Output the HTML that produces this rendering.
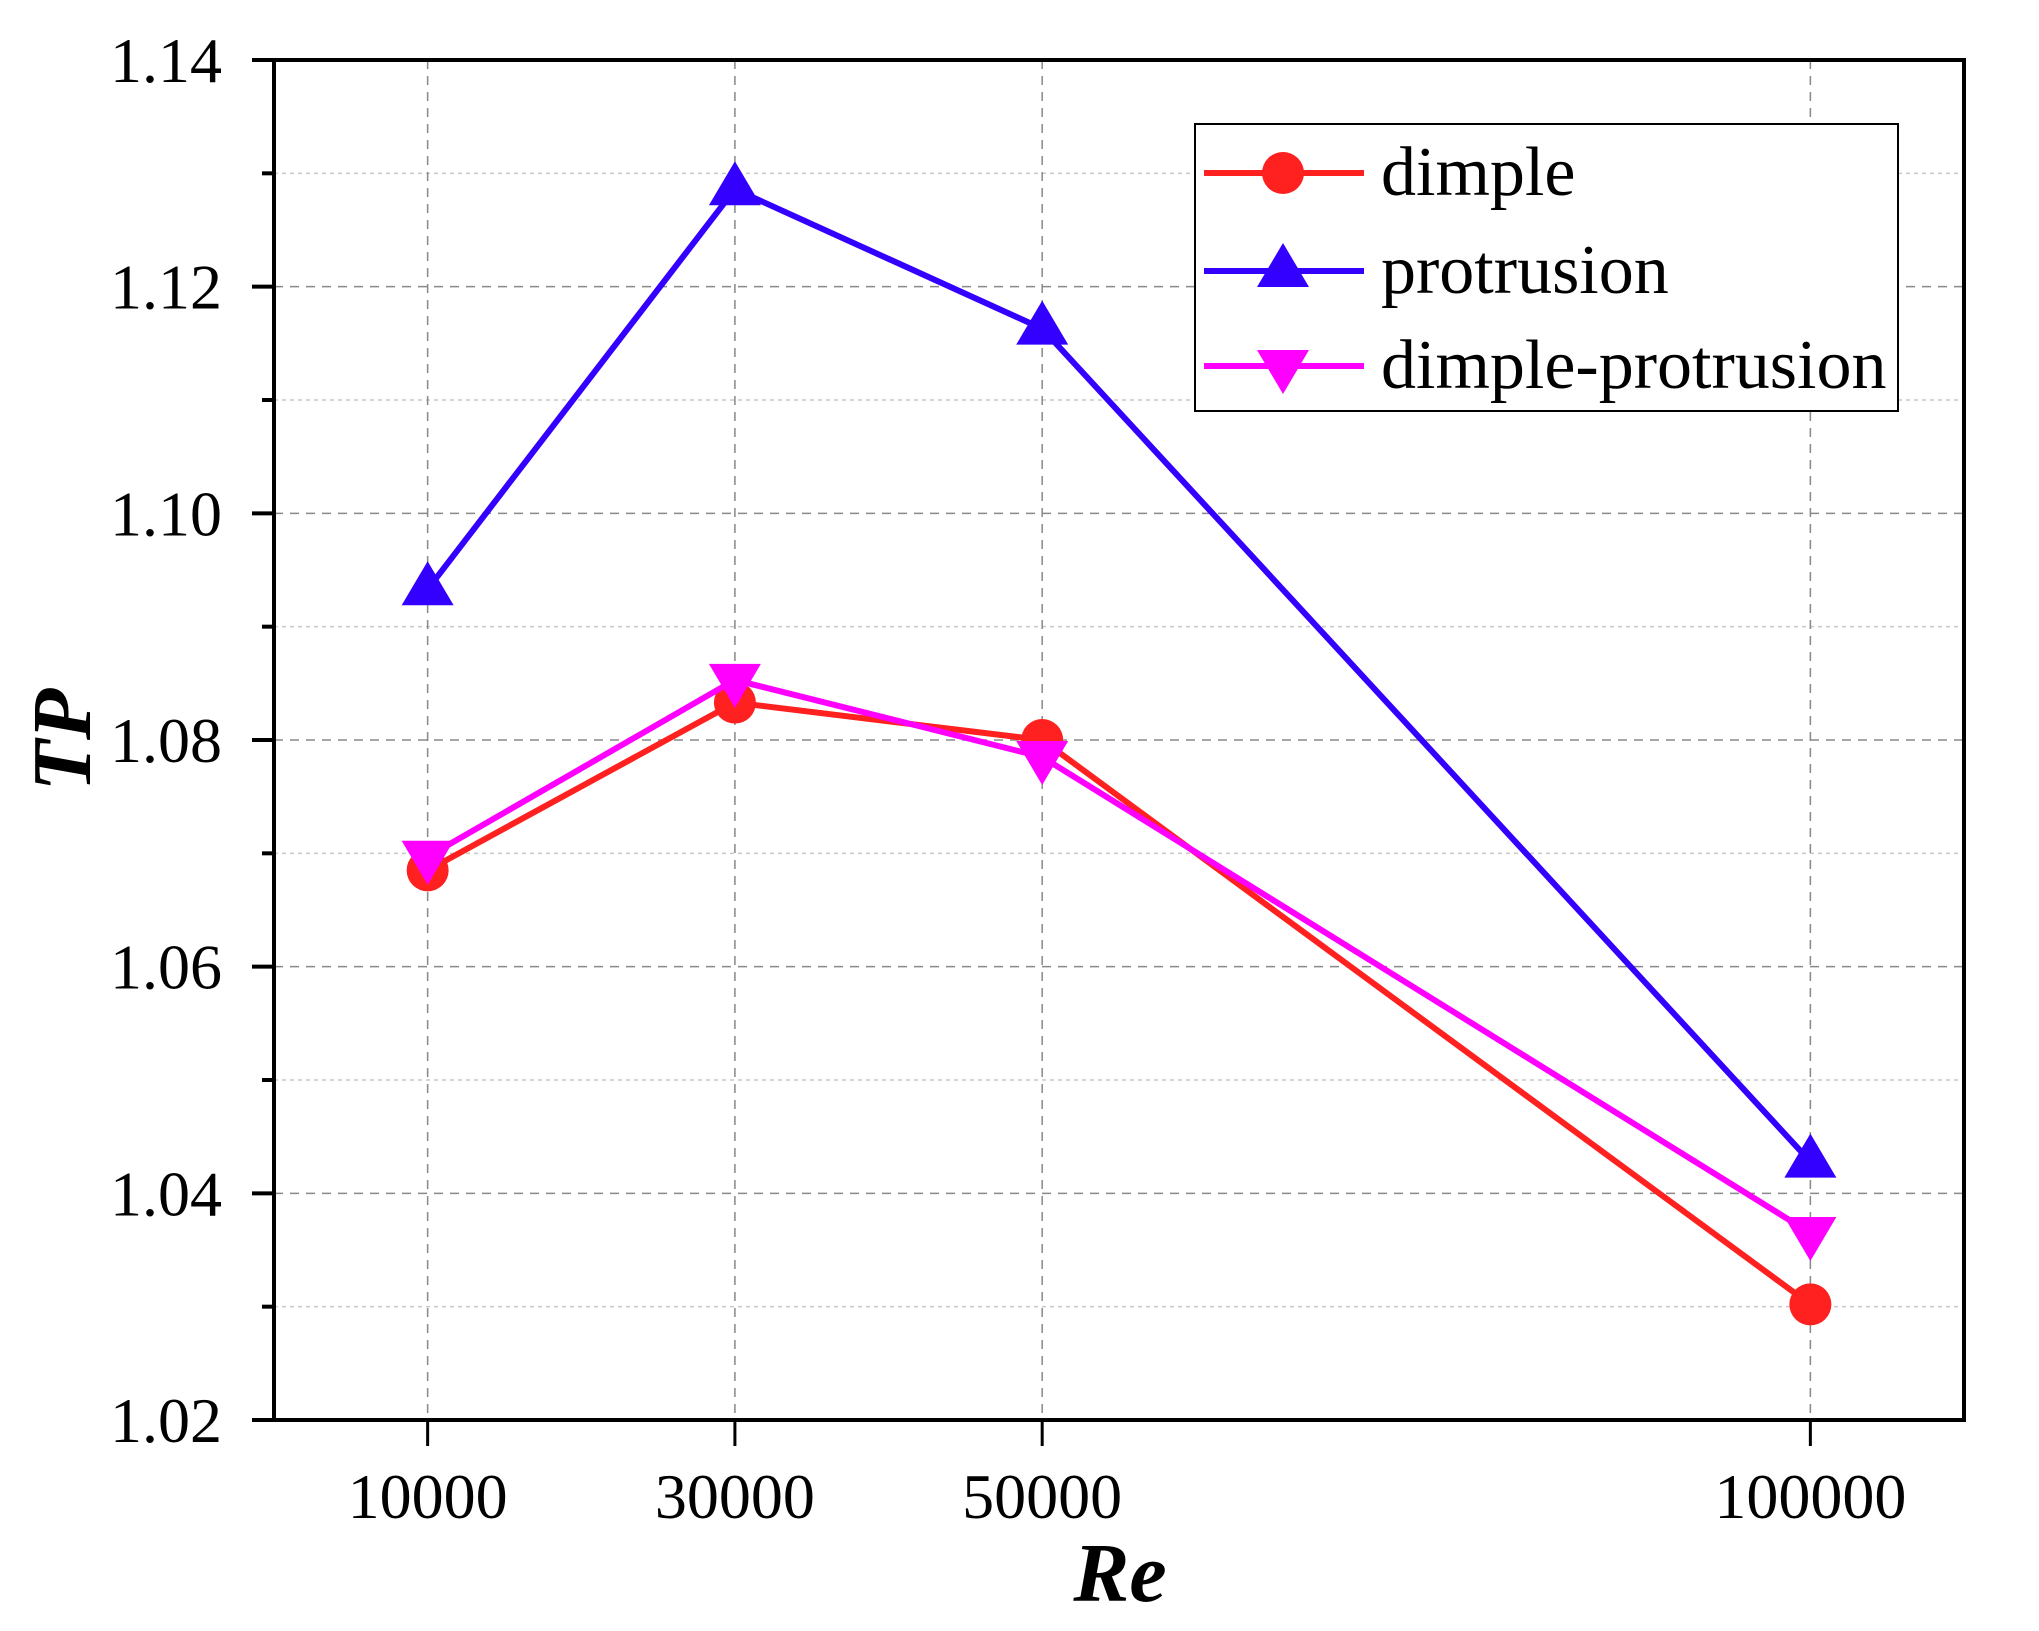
<!DOCTYPE html>
<html><head><meta charset="utf-8"><style>
html,body{margin:0;padding:0;background:#fff;}
svg{display:block;font-family:"Liberation Serif","DejaVu Serif",serif;}
</style></head><body>
<svg id="chart" width="2039" height="1631" viewBox="0 0 2039 1631" xmlns="http://www.w3.org/2000/svg">
<rect width="2039" height="1631" fill="#fff"/>
<g id="grid"></g>
<g id="series"></g>
<g id="axes"></g>
<g id="legend"></g>
</svg>
<script>
const categories = [10000, 30000, 50000, 100000];
const xTickLabels = ["10000", "30000", "50000", "100000"];
const yTicks = [1.02, 1.04, 1.06, 1.08, 1.10, 1.12, 1.14];
const yTickLabels = ["1.02", "1.04", "1.06", "1.08", "1.10", "1.12", "1.14"];
const dimple = [1.0685, 1.0833, 1.0800, 1.0302];
const protrusion = [1.0933, 1.1286, 1.1163, 1.0428];
const dimpleProtrusion = [1.0697, 1.0853, 1.0785, 1.0365];
const seriesNames = ["dimple", "protrusion", "dimple-protrusion"];

const NS = "http://www.w3.org/2000/svg";
const L = 274, R = 1964, T = 60, B = 1420;
const X0 = 0, X1 = 110000, Y0 = 1.02, Y1 = 1.14;
function sx(v){ return L + (v - X0) / (X1 - X0) * (R - L); }
function sy(v){ return B - (v - Y0) / (Y1 - Y0) * (B - T); }
function mk(tag, attrs, parent){
  const e = document.createElementNS(NS, tag);
  for (const k in attrs) e.setAttribute(k, attrs[k]);
  parent.appendChild(e);
  return e;
}
const grid = document.getElementById('grid');
const axes = document.getElementById('axes');
const ser = document.getElementById('series');
const leg = document.getElementById('legend');

for (let i = 0; i < yTicks.length - 1; i++) {
  const v = yTicks[i], vm = (yTicks[i] + yTicks[i+1]) / 2;
  if (i > 0) {
    const g = mk('line', {x1:L, x2:R, y1:sy(v), y2:sy(v), stroke:'#888', 'stroke-width':1.5, 'stroke-dasharray':'9 7'}, grid);
    
    
  }
  const gm = mk('line', {x1:L, x2:R, y1:sy(vm), y2:sy(vm), stroke:'#c8c8c8', 'stroke-width':1.5, 'stroke-dasharray':'4 4'}, grid);
  
  
}
categories.forEach(c => {
  const g = mk('line', {x1:sx(c), x2:sx(c), y1:T, y2:B, stroke:'#888', 'stroke-width':1.5, 'stroke-dasharray':'9 7'}, grid);
  
  
});

const frame = mk('rect', {x:L, y:T, width:R-L, height:B-T, fill:'none', stroke:'#000', 'stroke-width':4}, axes);



yTicks.forEach((v, i) => {
  const t = mk('line', {x1:L-22, x2:L, y1:sy(v), y2:sy(v), stroke:'#000', 'stroke-width':4}, axes);
  
  
  const lb = mk('text', {x:222, y:sy(v)+22, 'text-anchor':'end', 'font-size':64, fill:'#000'}, axes);
  lb.textContent = yTickLabels[i];
  
  
  if (i < yTicks.length - 1) {
    const vm = (v + yTicks[i+1]) / 2;
    const m = mk('line', {x1:L-12, x2:L, y1:sy(vm), y2:sy(vm), stroke:'#000', 'stroke-width':4}, axes);
    
    
  }
});
categories.forEach((c, i) => {
  const t = mk('line', {x1:sx(c), x2:sx(c), y1:B, y2:B+26, stroke:'#000', 'stroke-width':3}, axes);
  
  
  const lb = mk('text', {x:sx(c), y:1518, 'text-anchor':'middle', 'font-size':64, fill:'#000'}, axes);
  lb.textContent = xTickLabels[i];
  
  
});
const xt = mk('text', {x:1120, y:1601, 'text-anchor':'middle', 'font-size':84, 'font-weight':'bold', 'font-style':'italic', fill:'#000'}, axes);
xt.textContent = 'Re';


const yt = mk('text', {x:0, y:0, transform:'translate(90,740) rotate(-90)', 'text-anchor':'middle', 'font-size':84, 'font-weight':'bold', 'font-style':'italic', fill:'#000'}, axes);
yt.textContent = 'TP';



function marker(type, x, y, color, parent){
  let e;
  if (type === 'circle') e = mk('circle', {cx:x, cy:y, r:21, fill:color}, parent);
  else if (type === 'up') e = mk('polygon', {points:`${x},${y-28} ${x-26},${y+16} ${x+26},${y+16}`, fill:color}, parent);
  else e = mk('polygon', {points:`${x},${y+28} ${x-26},${y-16} ${x+26},${y-16}`, fill:color}, parent);
  return e;
}
const defs = [
  {vals: dimple, color:'#ff2020', m:'circle', key:'dimple'},
  {vals: protrusion, color:'#3300ff', m:'up', key:'protrusion'},
  {vals: dimpleProtrusion, color:'#ff00ff', m:'down', key:'dimple-protrusion'}
];
defs.forEach(d => {
  const g = mk('g', {}, ser);
  
  
  const pts = d.vals.map((v, i) => sx(categories[i]) + ',' + sy(v)).join(' ');
  const pl = mk('polyline', {points:pts, fill:'none', stroke:d.color, 'stroke-width':6}, g);
  
  
  d.vals.forEach((v, i) => {
    const p = marker(d.m, sx(categories[i]), sy(v), d.color, g);
    
    
  });
});

const lb = mk('rect', {x:1195, y:124, width:703, height:287, fill:'#fff', stroke:'#000', 'stroke-width':2}, leg);


const ly = [173, 271, 366];
defs.forEach((d, i) => {
  const g = mk('g', {}, leg);
  
  
  mk('line', {x1:1204, x2:1364, y1:ly[i], y2:ly[i], stroke:d.color, 'stroke-width':6}, g);
  marker(d.m, 1283, ly[i], d.color, g);
  const t = mk('text', {x:1381, y:ly[i]+22, 'font-size':70, fill:'#000'}, g);
  t.textContent = seriesNames[i];
  
  
});
</script>
</body></html>
